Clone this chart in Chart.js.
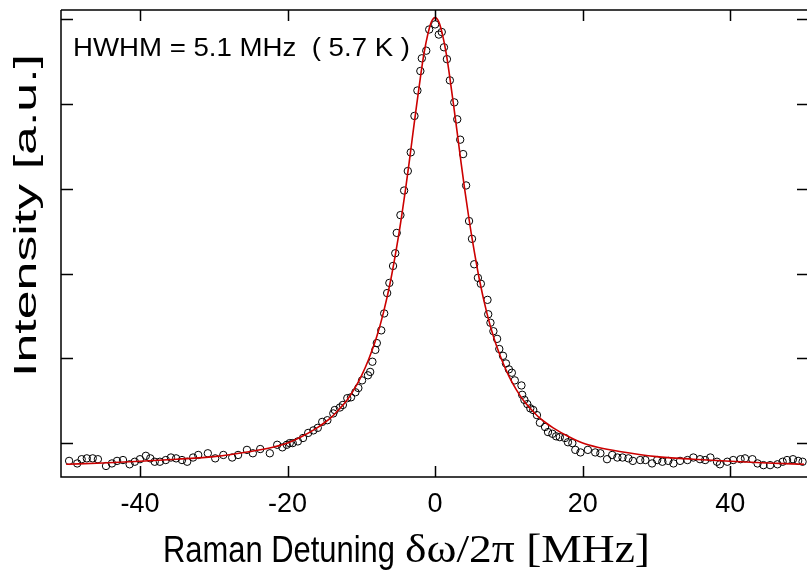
<!DOCTYPE html>
<html>
<head>
<meta charset="utf-8">
<script src="https://cdn.jsdelivr.net/npm/chart.js@4.4.1/dist/chart.umd.min.js"></script>
<style>
  html, body { margin: 0; padding: 0; background: #fff; }
  #wrap { width: 807px; height: 578px; }
</style>
</head>
<body>
<div id="wrap"><canvas id="chart" width="807" height="578"></canvas></div>
<script>
/* ================= DATA ================= */

// measured points (detuning in MHz, intensity in a.u.)
const dataX = [
  -49.6, -48.5, -47.9, -47.2, -46.4, -45.7, -44.6, -43.8, -43.1, -42.3, -41.4, -40.7,
  -40.0, -39.2, -38.6, -38.0, -37.3, -36.5, -35.8, -35.1, -34.3, -33.6, -32.8, -32.1,
  -30.8, -29.8, -28.7, -27.5, -26.7, -25.5, -24.7, -23.7, -22.4, -21.4,
  -20.7, -20.1, -19.7, -19.3, -18.6, -17.9, -17.2, -16.5, -15.9, -15.3, -14.6, -13.8,
  -13.6, -12.9, -12.5, -11.9, -11.4, -10.8, -10.4, -9.9, -9.1, -8.8, -8.5, -8.1,
  -7.9, -7.3, -6.9, -6.5, -6.2, -5.7, -5.4, -5.2, -4.7,
  -4.2, -3.7, -3.3, -2.8, -2.4, -2.0, -1.8, -1.2, -0.8, 0.0,
  0.5, 0.9, 1.2, 1.6, 2.0, 2.6, 3.0, 3.4, 3.8, 4.2,
  4.6, 5.0, 5.3, 5.8, 6.2, 7.1, 7.2, 7.5, 7.9, 8.4, 8.7, 9.2, 9.6, 10.0, 10.4, 10.8,
  11.7, 11.8, 12.1, 12.5, 12.9, 13.3, 13.8, 14.2, 14.9, 15.3, 15.9, 16.4, 16.9, 17.6, 18.0,
  18.6, 19.0, 19.7, 20.7, 21.7, 22.4, 23.3, 24.0, 24.7, 25.4, 26.2, 26.8, 27.8, 28.5,
  29.4, 30.1, 30.8, 31.6, 32.3, 33.2, 34.2, 35.0, 35.9, 36.6, 37.3, 38.2, 38.6, 39.6,
  40.4, 41.4, 42.0, 43.0, 43.7, 44.5, 45.4, 46.4, 47.1, 47.7, 48.5, 49.2, 49.8
];
const dataY = [
  -0.21, -0.24, -0.19, -0.18, -0.18, -0.19, -0.27, -0.24, -0.21, -0.20, -0.25, -0.22,
  -0.19, -0.15, -0.18, -0.22, -0.22, -0.20, -0.17, -0.18, -0.20, -0.22, -0.17, -0.14,
  -0.12, -0.18, -0.14, -0.17, -0.14, -0.08, -0.12, -0.07, -0.12, -0.02,
  -0.05, -0.02, 0.00, 0.00, 0.02, 0.06, 0.12, 0.15, 0.18, 0.25, 0.27, 0.35,
  0.39, 0.42, 0.45, 0.53, 0.54, 0.60, 0.65, 0.74, 0.80, 0.84, 0.96, 1.10,
  1.18, 1.33, 1.53, 1.77, 1.89, 2.09, 2.24, 2.48, 2.69,
  2.98, 3.21, 3.43, 3.86, 4.16, 4.39, 4.54, 4.63, 4.88, 4.94,
  4.82, 4.85, 4.67, 4.53, 4.28, 4.02, 3.82, 3.58, 3.41, 3.04,
  2.62, 2.41, 2.11, 1.95, 1.88, 1.69, 1.52, 1.42, 1.32, 1.23, 1.11, 1.03, 0.94, 0.87, 0.83, 0.74,
  0.68, 0.57, 0.51, 0.46, 0.41, 0.39, 0.33, 0.24, 0.19, 0.13, 0.11, 0.08, 0.07, 0.06, 0.01,
  0.00, -0.08, -0.11, -0.08, -0.11, -0.12, -0.19, -0.14, -0.17, -0.17, -0.18, -0.21, -0.20, -0.20,
  -0.24, -0.20, -0.22, -0.21, -0.24, -0.21, -0.20, -0.17, -0.19, -0.20, -0.17, -0.22, -0.25, -0.22,
  -0.20, -0.19, -0.18, -0.19, -0.24, -0.26, -0.26, -0.25, -0.22, -0.20, -0.19, -0.21, -0.22
];

// red fit curve
const fitX = [
  -50, -45, -40, -35, -30, -25, -22, -20, -18, -16, -15, -14, -13, -12, -11, -10,
  -9, -8, -7, -6, -5, -4.5, -4, -3.5, -3, -2.5, -2, -1.5, -1, -0.5, 0,
  0.5, 1, 1.5, 2, 2.5, 3, 3.5, 4, 4.5, 5, 6, 7, 8, 9, 10,
  11, 12, 13, 14, 15, 16, 18, 20, 22, 25, 30, 35, 40, 45, 50
];
const fitY = [
  -0.25, -0.235, -0.215, -0.19, -0.16, -0.10, -0.05, 0.00, 0.08, 0.18, 0.24, 0.31, 0.40, 0.50, 0.63, 0.79,
  0.99, 1.23, 1.54, 1.93, 2.42, 2.70, 3.00, 3.32, 3.66, 3.99, 4.31, 4.60, 4.82, 4.97, 5.02,
  4.97, 4.82, 4.60, 4.31, 3.99, 3.66, 3.32, 3.00, 2.70, 2.42, 1.93, 1.54, 1.23, 0.99, 0.79,
  0.63, 0.50, 0.40, 0.31, 0.24, 0.18, 0.08, 0.00, -0.05, -0.10, -0.16, -0.19, -0.215, -0.235, -0.25
];

const xTicks = [-40, -20, 0, 20, 40];
const yTicks = [0, 1, 2, 3, 4, 5];

const annotation = "HWHM = 5.1 MHz  ( 5.7 K )";
const yTitle = "Intensity [a.u.]";
const xTitleSans = "Raman Detuning";
const xTitleSerif = "\u03B4\u03C9/2\u03C0 [MHz]";

/* ================= HELPERS ================= */

const SANS = '"Liberation Sans", Arial, sans-serif';
const SERIF = '"Liberation Serif", "Times New Roman", serif';

// draw text squeezed/stretched horizontally to a given width
function fitText(ctx, text, font, x, y, width) {
  ctx.save();
  ctx.font = font;
  const w = ctx.measureText(text).width;
  ctx.translate(x, y);
  ctx.scale(width / w, 1);
  ctx.textAlign = "left";
  ctx.textBaseline = "alphabetic";
  ctx.fillText(text, 0, 0);
  ctx.restore();
}

/* frame, inward ticks and labels */
const framePlugin = {
  id: "frame",
  afterDraw(chart) {
    const { ctx, chartArea: a } = chart;
    const xs = chart.scales.x, ys = chart.scales.y;
    ctx.save();
    ctx.strokeStyle = "#000";
    ctx.lineWidth = 1.5;

    ctx.beginPath();
    ctx.moveTo(a.left, a.top);
    ctx.lineTo(a.right, a.top);
    ctx.moveTo(a.left, a.top);
    ctx.lineTo(a.left, a.bottom);
    ctx.lineTo(a.right, a.bottom);

    xTicks.forEach(v => {
      const px = Math.round(xs.getPixelForValue(v)) + 0.5;
      ctx.moveTo(px, a.bottom);
      ctx.lineTo(px, a.bottom - 11);
      ctx.moveTo(px, a.top);
      ctx.lineTo(px, a.top + 11);
    });
    yTicks.forEach(v => {
      const py = Math.round(ys.getPixelForValue(v)) + 0.5;
      ctx.moveTo(a.left, py);
      ctx.lineTo(a.left + 12, py);
      ctx.moveTo(a.right, py);
      ctx.lineTo(a.right - 10, py);
    });
    ctx.stroke();

    ctx.fillStyle = "#000";
    fitText(ctx, annotation, "25px " + SANS, 73, 56, 337);

    // y title, rotated
    ctx.save();
    ctx.translate(36, 377);
    ctx.rotate(-Math.PI / 2);
    fitText(ctx, yTitle, "31px " + SANS, 0, 0, 323);
    ctx.restore();

    // x title: sans part + serif part
    fitText(ctx, xTitleSans, "37px " + SANS, 163, 562, 232);
    fitText(ctx, xTitleSerif, "41px " + SERIF, 405, 562, 245);

    ctx.restore();
  }
};

/* ================= CHART ================= */

const points = dataX.map((x, i) => ({ x, y: dataY[i] }));
const fit = fitX.map((x, i) => ({ x, y: fitY[i] }));

new Chart(document.getElementById("chart"), {
  type: "scatter",
  data: {
    datasets: [
      {
        label: "fit",
        data: fit,
        showLine: true,
        borderColor: "#cc0000",
        borderWidth: 1.6,
        pointRadius: 0,
        cubicInterpolationMode: "monotone",
        order: 0,
      },
      {
        label: "data",
        data: points,
        pointStyle: "circle",
        pointRadius: 3.7,
        borderWidth: 1,
        borderColor: "#000",
        backgroundColor: "rgba(0,0,0,0)",
        order: 1,
      },
    ],
  },
  options: {
    responsive: false,
    animation: false,
    layout: { autoPadding: false, padding: { top: 10, right: 0, left: 0, bottom: 0 } },
    plugins: { legend: { display: false }, tooltip: { enabled: false } },
    scales: {
      x: {
        type: "linear",
        min: -50.7,
        max: 50.4,
        grid: { display: false, drawTicks: false },
        border: { display: false },
        afterBuildTicks: s => { s.ticks = xTicks.map(v => ({ value: v })); },
        afterFit: s => { s.height = 101; },
        ticks: {
          color: "#000",
          padding: 11,
          maxRotation: 0,
          font: { family: SANS, size: 27 },
        },
      },
      y: {
        type: "linear",
        min: -0.4,
        max: 5.11,
        grid: { display: false, drawTicks: false },
        border: { display: false },
        ticks: { display: false },
        afterFit: s => { s.width = 61; },
      },
    },
  },
  plugins: [framePlugin],
});
</script>
</body>
</html>
